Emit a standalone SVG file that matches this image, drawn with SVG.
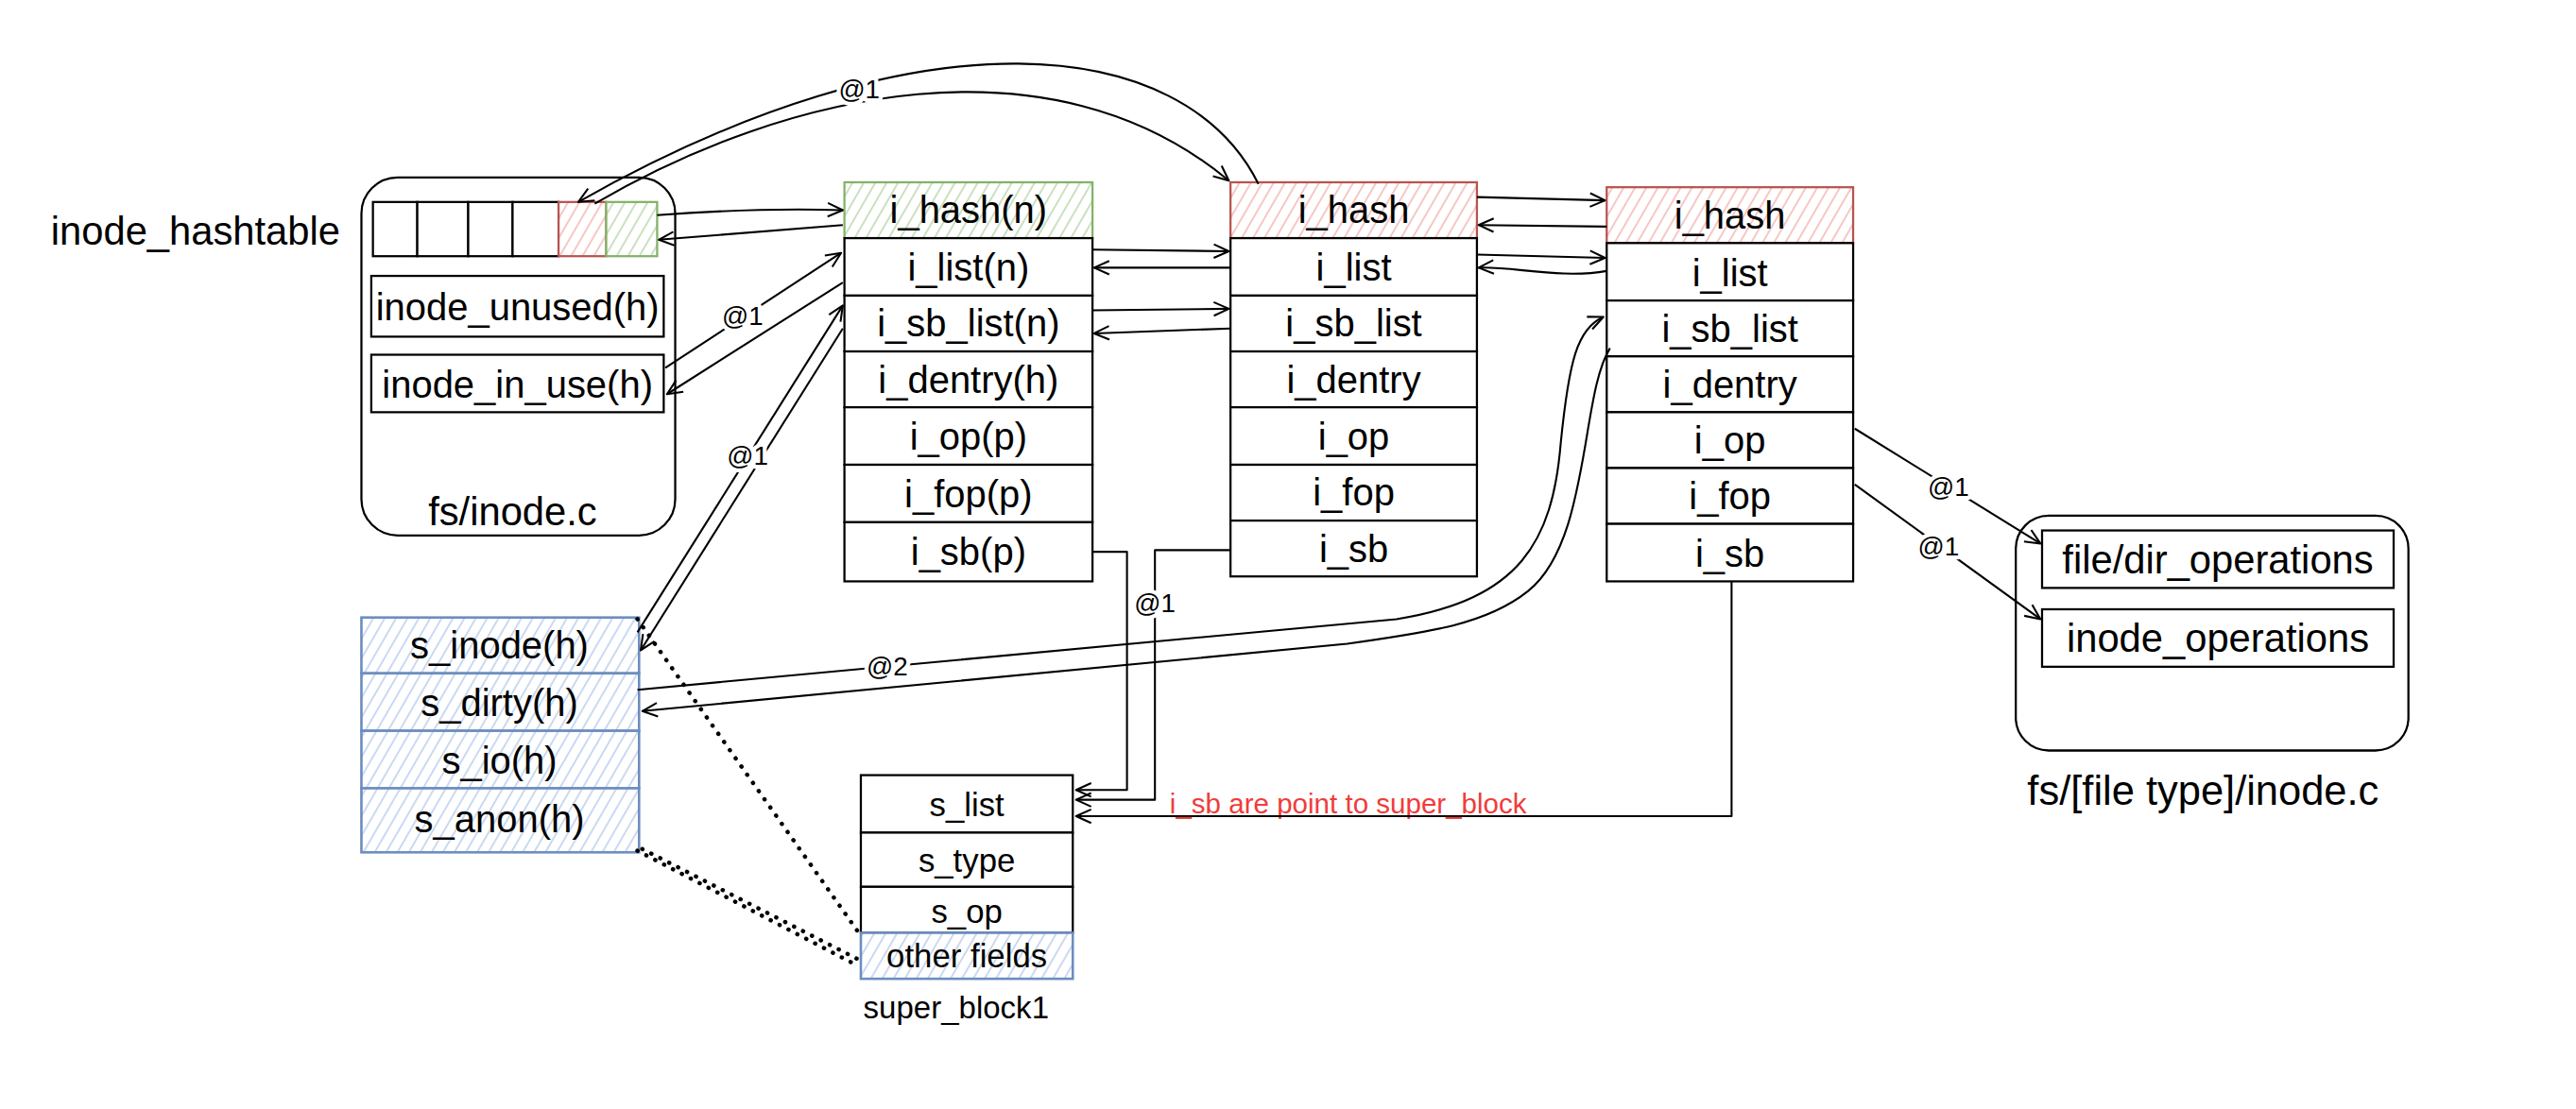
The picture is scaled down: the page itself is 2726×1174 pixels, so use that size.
<svg xmlns="http://www.w3.org/2000/svg" width="2726" height="1174" viewBox="0 0 2726 1174">
<defs>
<pattern id="hg" width="6" height="6" patternUnits="userSpaceOnUse" patternTransform="rotate(30)"><rect width="6" height="6" fill="#fff"/><line x1="1" y1="0" x2="1" y2="6" stroke="#c3dcb6" stroke-width="1"/></pattern>
<pattern id="hr" width="6" height="6" patternUnits="userSpaceOnUse" patternTransform="rotate(30)"><rect width="6" height="6" fill="#fff"/><line x1="1" y1="0" x2="1" y2="6" stroke="#f3c0bd" stroke-width="1"/></pattern>
<pattern id="hb" width="6" height="6" patternUnits="userSpaceOnUse" patternTransform="rotate(30)"><rect width="6" height="6" fill="#fff"/><line x1="1" y1="0" x2="1" y2="6" stroke="#c2d4f0" stroke-width="1"/></pattern>
<marker id="ah" viewBox="0 0 12 12" refX="11" refY="6" markerWidth="11" markerHeight="11" markerUnits="userSpaceOnUse" orient="auto"><path d="M1,1.5 L11,6 L1,10.5" fill="none" stroke="#000" stroke-width="1.3" stroke-linejoin="round"/></marker>
</defs>
<style>
.t{font-family:"Liberation Sans",Arial,sans-serif;font-size:23px;fill:#000;text-anchor:middle}
.s{font-size:20px}
.c{fill:#fff;stroke:#000;stroke-width:1.3}
.g{fill:url(#hg);stroke:#82b366;stroke-width:1.3}
.r{fill:url(#hr);stroke:#b85450;stroke-width:1.3}
.b{fill:url(#hb);stroke:#6c8ebf;stroke-width:1.5}
.ln{fill:none;stroke:#000;stroke-width:1.2;stroke-linejoin:round}
.ar{marker-end:url(#ah)}
.lb{font-family:"Liberation Sans",Arial,sans-serif;font-size:16px;fill:#000;text-anchor:middle;stroke:#fff;stroke-width:5px;paint-order:stroke;stroke-linejoin:round}
.dot{fill:none;stroke:#000;stroke-width:2.6;stroke-dasharray:0.1 6;stroke-linecap:round}
</style>
<rect width="2726" height="1174" fill="#fff"/>
<g transform="scale(1.73852)">
<g id="label-hashtable"><text class="t" x="119" y="149" style="font-size:24px">inode_hashtable</text></g>
<g id="fs-inode-c">
<rect class="c" x="220" y="108" width="191" height="218" rx="22"/>
<rect class="c" x="227" y="123" width="27" height="33"/>
<rect class="c" x="254" y="123" width="31" height="33"/>
<rect class="c" x="285" y="123" width="27" height="33"/>
<rect class="c" x="312" y="123" width="28" height="33"/>
<rect class="r" x="340" y="123" width="29" height="33"/>
<rect class="g" x="369" y="123" width="31" height="33"/>
<rect class="c" x="226" y="168" width="178" height="37"/>
<text class="t" x="315" y="195">inode_unused(h)</text>
<rect class="c" x="226" y="216" width="178" height="35"/>
<text class="t" x="315" y="242">inode_in_use(h)</text>
<text class="t" x="312" y="320" style="font-size:24px">fs/inode.c</text>
</g>
<g id="inode1">
<rect class="g" x="514" y="111" width="151" height="34"/><text class="t" x="589.5" y="136">i_hash(n)</text>
<rect class="c" x="514" y="145" width="151" height="35"/><text class="t" x="589.5" y="171">i_list(n)</text>
<rect class="c" x="514" y="180" width="151" height="34"/><text class="t" x="589.5" y="205">i_sb_list(n)</text>
<rect class="c" x="514" y="214" width="151" height="34"/><text class="t" x="589.5" y="239">i_dentry(h)</text>
<rect class="c" x="514" y="248" width="151" height="35"/><text class="t" x="589.5" y="274">i_op(p)</text>
<rect class="c" x="514" y="283" width="151" height="35"/><text class="t" x="589.5" y="309">i_fop(p)</text>
<rect class="c" x="514" y="318" width="151" height="36"/><text class="t" x="589.5" y="344">i_sb(p)</text>
</g>
<g id="inode2">
<rect class="r" x="749" y="111" width="150" height="34"/><text class="t" x="824" y="136">i_hash</text>
<rect class="c" x="749" y="145" width="150" height="35"/><text class="t" x="824" y="171">i_list</text>
<rect class="c" x="749" y="180" width="150" height="34"/><text class="t" x="824" y="205">i_sb_list</text>
<rect class="c" x="749" y="214" width="150" height="34"/><text class="t" x="824" y="239">i_dentry</text>
<rect class="c" x="749" y="248" width="150" height="35"/><text class="t" x="824" y="274">i_op</text>
<rect class="c" x="749" y="283" width="150" height="34"/><text class="t" x="824" y="308">i_fop</text>
<rect class="c" x="749" y="317" width="150" height="34"/><text class="t" x="824" y="342">i_sb</text>
</g>
<g id="inode3">
<rect class="r" x="978" y="114" width="150" height="34"/><text class="t" x="1053" y="139">i_hash</text>
<rect class="c" x="978" y="148" width="150" height="35"/><text class="t" x="1053" y="174">i_list</text>
<rect class="c" x="978" y="183" width="150" height="34"/><text class="t" x="1053" y="208">i_sb_list</text>
<rect class="c" x="978" y="217" width="150" height="34"/><text class="t" x="1053" y="242">i_dentry</text>
<rect class="c" x="978" y="251" width="150" height="34"/><text class="t" x="1053" y="276">i_op</text>
<rect class="c" x="978" y="285" width="150" height="34"/><text class="t" x="1053" y="310">i_fop</text>
<rect class="c" x="978" y="319" width="150" height="35"/><text class="t" x="1053" y="345">i_sb</text>
</g>
<g id="fs-filetype-inode-c">
<rect class="c" x="1227" y="314" width="239" height="143" rx="20"/>
<rect class="c" x="1243" y="323" width="214" height="35"/><text class="t" x="1350" y="349" style="font-size:24px">file/dir_operations</text>
<rect class="c" x="1243" y="371" width="214" height="35"/><text class="t" x="1350" y="397" style="font-size:24px">inode_operations</text>
<text class="t" x="1341" y="490" style="font-size:25px">fs/[file type]/inode.c</text>
</g>
<g id="sb-lists">
<rect class="b" x="220" y="376" width="169" height="34"/><text class="t" x="304" y="401">s_inode(h)</text>
<rect class="b" x="220" y="410" width="169" height="35"/><text class="t" x="304" y="436">s_dirty(h)</text>
<rect class="b" x="220" y="445" width="169" height="35"/><text class="t" x="304" y="471">s_io(h)</text>
<rect class="b" x="220" y="480" width="169" height="39"/><text class="t" x="304" y="507">s_anon(h)</text>
</g>
<g id="super-block1">
<rect class="c" x="524" y="472" width="129" height="35"/><text class="t s" x="588.5" y="497">s_list</text>
<rect class="c" x="524" y="507" width="129" height="33"/><text class="t s" x="588.5" y="531">s_type</text>
<rect class="c" x="524" y="540" width="129" height="28"/><text class="t s" x="588.5" y="562">s_op</text>
<rect class="b" x="524" y="568" width="129" height="28"/><text class="t s" x="588.5" y="589">other fields</text>
<text class="t" x="582" y="620" style="font-size:19px">super_block1</text>
</g>
<g id="note"><text x="712" y="495" style="font-family:'Liberation Sans',Arial,sans-serif;font-size:17px;fill:#f03c3c">i_sb are point to super_block</text></g>
<g id="connectors">
<path class="ln ar" d="M766,112 C720,20 560,5 352,123"/>
<path class="ln ar" d="M362,124 C480,55 640,20 748,110"/>
<text class="lb" x="523" y="60">@1</text>
<path class="ln ar" d="M400,131 C440,128 480,127 513,128"/>
<path class="ln ar" d="M513,137 L401,146"/>
<path class="ln ar" d="M405,224 L512,154"/>
<path class="ln ar" d="M513,172 L406,240"/>
<text class="lb" x="452" y="198">@1</text>
<path class="ln ar" d="M388,385 L513,186"/>
<path class="ln ar" d="M513,200 L390,396"/>
<text class="lb" x="455" y="283">@1</text>
<path class="ln ar" d="M665,152 L748,153"/>
<path class="ln ar" d="M749,163 L666,163"/>
<path class="ln ar" d="M665,189 L748,188"/>
<path class="ln ar" d="M749,200 L666,203"/>
<path class="ln ar" d="M899,120 L977,122"/>
<path class="ln ar" d="M978,138 L900,137"/>
<path class="ln ar" d="M899,155 L977,157"/>
<path class="ln ar" d="M978,165 C950,170 920,162 900,163"/>
<path class="ln ar" d="M388,420 L850,377 C925,365 945,330 950,270 C955,220 960,200 976,193"/>
<path class="ln ar" d="M980,212 C962,240 968,330 930,360 C905,380 870,385 820,392 L391,433"/>
<text class="lb" x="540" y="411">@2</text>
<path class="ln ar" d="M665,336 L686,336 L686,481 L655,481"/>
<path class="ln ar" d="M749,335 L703,335 L703,487 L655,487"/>
<text class="lb" x="703" y="373">@1</text>
<path class="ln ar" d="M1054,354 L1054,497 L655,497"/>
<path class="ln ar" d="M1129,261 L1242,331"/>
<text class="lb" x="1186" y="302">@1</text>
<path class="ln ar" d="M1129,295 L1242,377"/>
<text class="lb" x="1180" y="338">@1</text>
<path class="dot" d="M388,377 L522,567"/>
<path class="dot" d="M388,518 L522,588"/>
<path class="dot" d="M391,517 L524,585"/>
</g>
</g>
</svg>
